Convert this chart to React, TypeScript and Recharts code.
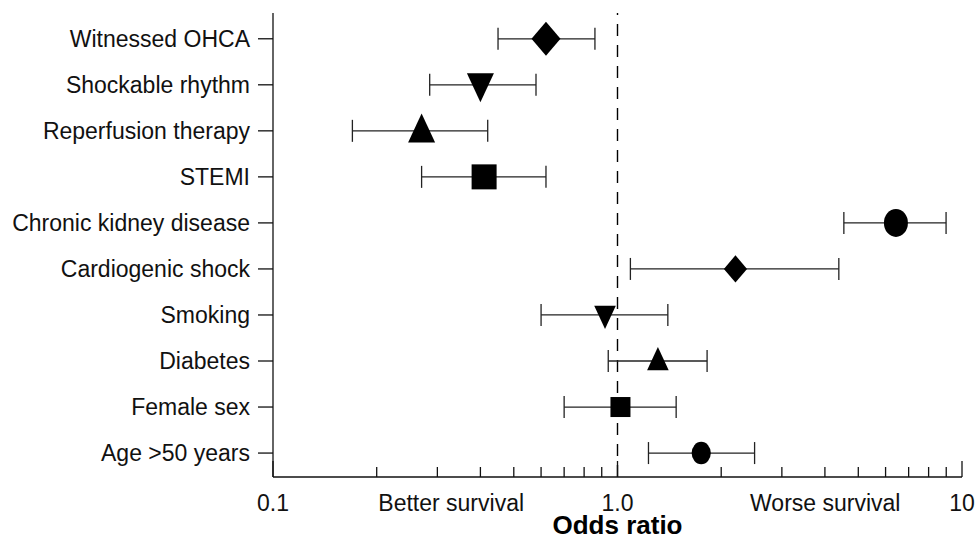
import { ScatterChart, Scatter, XAxis, YAxis, ErrorBar, ReferenceLine } from "recharts";

const categories = [
  "Witnessed OHCA",
  "Shockable rhythm",
  "Reperfusion therapy",
  "STEMI",
  "Chronic kidney disease",
  "Cardiogenic shock",
  "Smoking",
  "Diabetes",
  "Female sex",
  "Age >50 years",
];
const oddsRatio = [0.62, 0.4, 0.27, 0.41, 6.43, 2.2, 0.92, 1.31, 1.02, 1.75];
const ciLower = [0.45, 0.285, 0.17, 0.27, 4.54, 1.09, 0.6, 0.94, 0.7, 1.23];
const ciUpper = [0.86, 0.58, 0.42, 0.62, 8.99, 4.39, 1.4, 1.82, 1.48, 2.5];
const markers = ["diamond", "triangleDown", "triangleUp", "square", "circle", "diamond", "triangleDown", "triangleUp", "square", "circle"];

const majorTicks = [0.1, 1, 10];
const majorLabels = ["0.1", "1.0", "10"];
const minorTicks = [0.2, 0.3, 0.4, 0.5, 0.6, 0.7, 0.8, 0.9, 2, 3, 4, 5, 6, 7, 8, 9];
const regionTicks = [0.329, 4.01];
const regionLabels = ["Better survival", "Worse survival"];

const rows = categories.map((name, i) => ({
  name,
  y: i,
  or: oddsRatio[i],
  err: [oddsRatio[i] - ciLower[i], ciUpper[i] - oddsRatio[i]],
  marker: markers[i],
  big: i < 5,
}));

const FONT = "'Liberation Sans', Arial, sans-serif";
const INK = "#111";

function XTick(props: any) {
  const { x, y, payload } = props;
  const v = payload.value;
  const mi = majorTicks.indexOf(v);
  const ri = regionTicks.indexOf(v);
  const textProps = { x, y: y + 34, textAnchor: "middle" as const, fontSize: 23, fill: INK, fontFamily: FONT };
  if (mi >= 0) {
    return (
      <g>
        <line x1={x} x2={x} y1={y} y2={y - 16} stroke={INK} strokeWidth={1.3} />
        <text {...textProps}>{majorLabels[mi]}</text>
      </g>
    );
  }
  if (ri >= 0) return <text {...textProps}>{regionLabels[ri]}</text>;
  return <line x1={x} x2={x} y1={y} y2={y - 10} stroke={INK} strokeWidth={1.3} />;
}

function Marker(props: any) {
  const { cx, cy, payload } = props;
  const k = payload.big ? 1 : 0.8;
  const fill = "#000";
  switch (payload.marker) {
    case "diamond": {
      const w = 14.5 * k, h = 17 * k;
      return <polygon points={`${cx},${cy - h} ${cx + w},${cy} ${cx},${cy + h} ${cx - w},${cy}`} fill={fill} />;
    }
    case "triangleDown": {
      const w = 13.5 * k, h = 29 * k;
      return <polygon points={`${cx - w},${cy - h * 0.4} ${cx + w},${cy - h * 0.4} ${cx},${cy + h * 0.6}`} fill={fill} />;
    }
    case "triangleUp": {
      const w = 13.5 * k, h = 29 * k;
      return <polygon points={`${cx - w},${cy + h * 0.4} ${cx + w},${cy + h * 0.4} ${cx},${cy - h * 0.6}`} fill={fill} />;
    }
    case "square": {
      const s = 25 * k;
      return <rect x={cx - s / 2} y={cy - s / 2} width={s} height={s} fill={fill} />;
    }
    default:
      return <ellipse cx={cx} cy={cy} rx={12 * k} ry={14 * k} fill={fill} />;
  }
}

export default function App() {
  return (
    <div style={{ position: "absolute", left: 0, top: 0, background: "#fff", fontFamily: FONT }}>
      <ScatterChart width={977} height={546} margin={{ top: 13, right: 15, bottom: 0, left: 0 }}>
        <XAxis
          type="number"
          dataKey="or"
          scale="log"
          domain={[0.1, 10]}
          allowDataOverflow
          ticks={[...majorTicks, ...minorTicks, ...regionTicks]}
          interval={0}
          tickSize={0}
          tickMargin={0}
          tickLine={false}
          tick={<XTick />}
          axisLine={{ stroke: INK, strokeWidth: 1.3 }}
          height={69}
          label={{
            value: "Odds ratio",
            position: "insideBottom",
            offset: 12,
            fontSize: 26,
            fontWeight: "bold",
            fill: "#000",
            fontFamily: FONT,
          }}
        />
        <YAxis
          type="number"
          dataKey="y"
          reversed
          domain={[-0.56, 9.52]}
          ticks={categories.map((_, i) => i)}
          interval={0}
          tickFormatter={(i: number) => categories[i]}
          tickSize={15}
          tickMargin={8}
          tick={{ fontSize: 23, fill: INK, fontFamily: FONT }}
          tickLine={{ stroke: INK, strokeWidth: 1.3 }}
          axisLine={{ stroke: INK, strokeWidth: 1.3 }}
          width={273}
        />
        <ReferenceLine x={1} stroke="#000" strokeWidth={1.4} strokeDasharray="12 9" />
        <Scatter data={rows} shape={<Marker />} isAnimationActive={false}>
          <ErrorBar dataKey="err" direction="x" width={11} stroke="#222" strokeWidth={1.3} />
        </Scatter>
      </ScatterChart>
    </div>
  );
}
